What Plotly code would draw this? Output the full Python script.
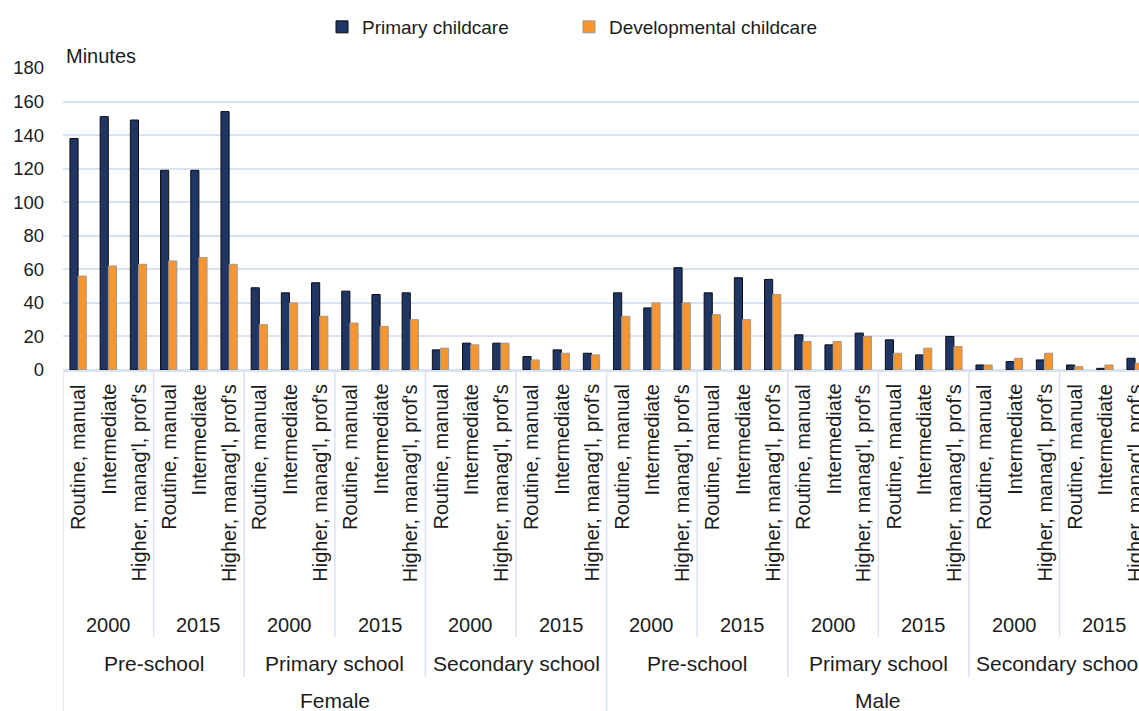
import plotly.graph_objects as go

# ---------------- data ----------------
sexes = ["Female", "Male"]
schools = ["Pre-school", "Primary school", "Secondary school"]
years = ["2000", "2015"]
classes = ["Routine, manual", "Intermediate", "Higher, manag'l, prof's"]

# order: sex > school > year > class
primary_childcare = [
    138, 151, 149, 119, 119, 154,   # Female, Pre-school 2000 / 2015
    49, 46, 52, 47, 45, 46,         # Female, Primary school
    12, 16, 16, 8, 12, 10,          # Female, Secondary school
    46, 37, 61, 46, 55, 54,         # Male, Pre-school
    21, 15, 22, 18, 9, 20,          # Male, Primary school
    3, 5, 6, 3, 1, 7,               # Male, Secondary school
]
developmental_childcare = [
    56, 62, 63, 65, 67, 63,
    27, 40, 32, 28, 26, 30,
    13, 15, 16, 6, 10, 9,
    32, 40, 40, 33, 30, 45,
    17, 17, 20, 10, 13, 14,
    3, 7, 10, 2, 3, 4,
]

y_ticks = [0, 20, 40, 60, 80, 100, 120, 140, 160, 180]

# ---------------- styling ----------------
W, H = 1139, 711
ML, MT, MB = 63, 68, 341
FONT = "Liberation Sans, Arial, sans-serif"
TXT = "#1c1c1c"
GRID = "#D9E2F1"
NAVY = "#1F3564"
ORANGE = "#F7962F"
CAT_PX = 30.2
plot_w = W - ML
x_max = -0.5 + plot_w / CAT_PX

n_cls, n_yr, n_sch = len(classes), len(years), len(schools)
n = len(primary_childcare)
xs = list(range(n))
cat_names = [classes[i % n_cls] for i in range(n)]

fig = go.Figure()
fig.add_trace(go.Bar(
    x=xs, y=primary_childcare, name="Primary childcare",
    marker=dict(color=NAVY, line=dict(color="#0d0d0d", width=1)),
    legend="legend", showlegend=True, customdata=cat_names,
))
fig.add_trace(go.Bar(
    x=xs, y=developmental_childcare, name="Developmental childcare",
    marker=dict(color=ORANGE, line=dict(color="#9a9a9a", width=1)),
    legend="legend2", showlegend=True, customdata=cat_names,
))

annotations = []
# class labels (rotated)
for i in range(n):
    annotations.append(dict(
        x=xs[i], y=0, xref="x", yref="paper", yshift=-12,
        text=cat_names[i], textangle=-90, showarrow=False,
        xanchor="center", yanchor="top",
        font=dict(family=FONT, size=20, color=TXT)))
# year labels
per_year = n_cls
for k in range(n // per_year):
    annotations.append(dict(
        x=k * per_year + (per_year - 1) / 2, y=0, xref="x", yref="paper",
        yshift=-255, text=years[k % n_yr], showarrow=False,
        xanchor="center", yanchor="middle",
        font=dict(family=FONT, size=20, color=TXT)))
# school labels
per_school = n_cls * n_yr
for k in range(n // per_school):
    annotations.append(dict(
        x=k * per_school + (per_school - 1) / 2, y=0, xref="x", yref="paper",
        yshift=-293, text=schools[k % n_sch], showarrow=False,
        xanchor="center", yanchor="middle",
        font=dict(family=FONT, size=21, color=TXT)))
# sex labels
per_sex = per_school * n_sch
for k in range(n // per_sex):
    annotations.append(dict(
        x=k * per_sex + (per_sex - 1) / 2, y=0, xref="x", yref="paper",
        yshift=-330, text=sexes[k], showarrow=False,
        xanchor="center", yanchor="middle",
        font=dict(family=FONT, size=21, color=TXT)))
# axis title
annotations.append(dict(
    x=0, y=1, xref="paper", yref="paper", xshift=1, yshift=12,
    text="Minutes", showarrow=False, xanchor="left", yanchor="middle",
    font=dict(family=FONT, size=20, color=TXT)))

shapes = []
for b in range(n + 1):
    xb = b - 0.5
    if b % per_sex == 0:
        ln = 341
    elif b % per_school == 0:
        ln = 307
    elif b % per_year == 0:
        ln = 267
    else:
        continue
    shapes.append(dict(
        type="line", xref="x", yref="paper", ysizemode="pixel", yanchor=0,
        x0=xb, x1=xb, y0=0, y1=-ln,
        line=dict(color=GRID, width=1.5)))

leg_font = dict(family=FONT, size=19, color=TXT)
leg_y = 1 + (MT - 27) / (H - MT - MB)
fig.update_layout(
    width=W, height=H,
    margin=dict(l=ML, r=0, t=MT, b=MB, pad=0),
    paper_bgcolor="white", plot_bgcolor="white",
    barmode="group", bargap=0.46, bargroupgap=0,
    showlegend=True,
    font=dict(family=FONT, color=TXT),
    xaxis=dict(range=[-0.5, x_max], showticklabels=False, showgrid=False,
               zeroline=False, showline=True, linecolor=GRID, linewidth=1.5,
               ticks="", fixedrange=True),
    yaxis=dict(range=[0, 180], tickvals=y_ticks, showgrid=True,
               gridcolor=GRID, gridwidth=1.5, zeroline=True,
               zerolinecolor=GRID, zerolinewidth=1.5, ticks="",
               ticklabelstandoff=18, tickfont=dict(family=FONT, size=18.5, color=TXT),
               showline=False, fixedrange=True),
    legend=dict(orientation="h", x=(322 - ML) / plot_w, xanchor="left",
                y=leg_y, yanchor="middle", visible=True,
                font=leg_font, bgcolor="rgba(0,0,0,0)"),
    legend2=dict(orientation="h", x=(569 - ML) / plot_w, xanchor="left",
                 y=leg_y, yanchor="middle", visible=True,
                 font=leg_font, bgcolor="rgba(0,0,0,0)"),
    annotations=annotations,
    shapes=shapes,
)

fig.write_html(
    "out.html",
    config={"displayModeBar": False},
    post_script="document.body.style.margin='0';document.body.style.padding='0';"
                "document.body.style.overflow='hidden';",
)
